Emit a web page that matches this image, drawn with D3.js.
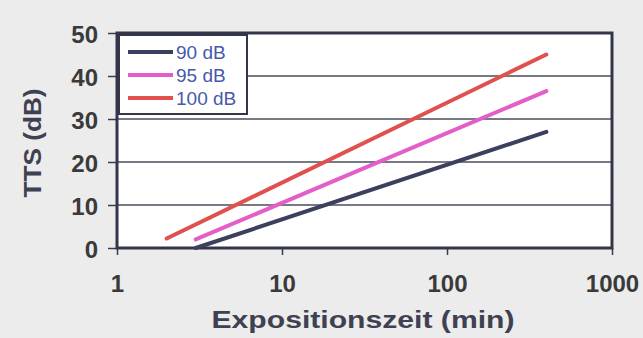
<!DOCTYPE html>
<html><head><meta charset="utf-8">
<script src="https://cdn.jsdelivr.net/npm/d3@7/dist/d3.min.js"></script>
<style>html,body{margin:0;padding:0;background:#ececec;}svg{display:block;}</style>
</head><body>
<svg id="c" width="643" height="338"></svg>
<script>
const seriesNames = ["90 dB", "95 dB", "100 dB"];
const seriesColors = ["#3c3f5e", "#e35ec9", "#e0504f"];
const times90 = [3, 400];
const tts90 = [0, 27];
const times95 = [3, 400];
const tts95 = [2, 36.5];
const times100 = [2, 400];
const tts100 = [2.2, 45];
const xTicks = [1, 10, 100, 1000];
const yTicks = [0, 10, 20, 30, 40, 50];

const series = [
  {name: seriesNames[0], color: seriesColors[0], pts: times90.map((t,i)=>[t, tts90[i]])},
  {name: seriesNames[1], color: seriesColors[1], pts: times95.map((t,i)=>[t, tts95[i]])},
  {name: seriesNames[2], color: seriesColors[2], pts: times100.map((t,i)=>[t, tts100[i]])}
];

const svg = d3.select("#c");
const L = 117, R = 612, T = 33, B = 248;
const x = d3.scaleLog().domain([1, 1000]).range([L, R]);
const y = d3.scaleLinear().domain([0, 50]).range([B, T]);

svg.append("rect").attr("width",643).attr("height",338).attr("fill","#ececec");
svg.append("rect").attr("x",L).attr("y",T).attr("width",R-L).attr("height",B-T).attr("fill","#ffffff");

// gridlines
svg.append("g").selectAll("line").data(yTicks.filter(v=>v>0 && v<50)).join("line")
  .attr("x1",L).attr("x2",R).attr("y1",d=>y(d)).attr("y2",d=>y(d))
  .attr("stroke","#4a4d5a").attr("stroke-width",1.3);

// y axis
const yAx = svg.append("g").attr("transform",`translate(${L},0)`)
  .call(d3.axisLeft(y).tickValues(yTicks).tickSize(9).tickPadding(10).tickFormat(d3.format("d")));
yAx.select(".domain").remove();
yAx.selectAll("line").attr("stroke","#3a3d4e").attr("stroke-width",1.5);
yAx.selectAll("text").attr("font-family","Liberation Sans, Arial, sans-serif").attr("font-weight","bold")
  .attr("font-size",24).attr("fill","#3a3a3a").attr("dy","0.4em");

// x axis
const xAx = svg.append("g").attr("transform",`translate(0,${B})`)
  .call(d3.axisBottom(x).tickValues(xTicks).tickSize(7).tickPadding(20).tickFormat(d3.format("d")));
xAx.select(".domain").remove();
xAx.selectAll("line").attr("stroke","#3a3d4e").attr("stroke-width",1.5);
xAx.selectAll("text").attr("font-family","Liberation Sans, Arial, sans-serif").attr("font-weight","bold")
  .attr("font-size",24).attr("fill","#3a3a3a");

// frame
svg.append("rect").attr("x",L).attr("y",T).attr("width",R-L).attr("height",B-T)
  .attr("fill","none").attr("stroke","#33364a").attr("stroke-width",3);

// series lines
const line = d3.line().x(d=>x(d[0])).y(d=>y(d[1]));
svg.append("g").selectAll("path").data(series).join("path")
  .attr("d",d=>line(d.pts)).attr("fill","none").attr("stroke",d=>d.color)
  .attr("stroke-width",4).attr("stroke-linecap","round");

// legend
const lg = svg.append("g");
lg.append("rect").attr("x",119).attr("y",35).attr("width",128).attr("height",79)
  .attr("fill","#ffffff").attr("stroke","#33364a").attr("stroke-width",2);
const rows = lg.selectAll("g").data(series).join("g")
  .attr("transform",(d,i)=>`translate(0,${[52,75,98][i]})`);
rows.append("line").attr("x1",128).attr("x2",173).attr("y1",0).attr("y2",0)
  .attr("stroke",d=>d.color).attr("stroke-width",4);
rows.append("text").attr("x",176).attr("y",0).attr("dy","0.36em")
  .attr("font-family","Liberation Sans, Arial, sans-serif").attr("font-size",19)
  .attr("fill","#4858ad").text(d=>d.name);

// titles
svg.append("text").attr("x",363).attr("y",328).attr("text-anchor","middle")
  .attr("font-family","Liberation Sans, Arial, sans-serif").attr("font-weight","bold")
  .attr("font-size",23).attr("fill","#3f4150")
  .attr("textLength",303).attr("lengthAdjust","spacingAndGlyphs")
  .text("Expositionszeit (min)");
svg.append("text").attr("transform","translate(41,143) rotate(-90)").attr("text-anchor","middle")
  .attr("font-family","Liberation Sans, Arial, sans-serif").attr("font-weight","bold")
  .attr("font-size",24).attr("fill","#3f4150")
  .attr("textLength",109).attr("lengthAdjust","spacingAndGlyphs")
  .text("TTS (dB)");
</script>
</body></html>
